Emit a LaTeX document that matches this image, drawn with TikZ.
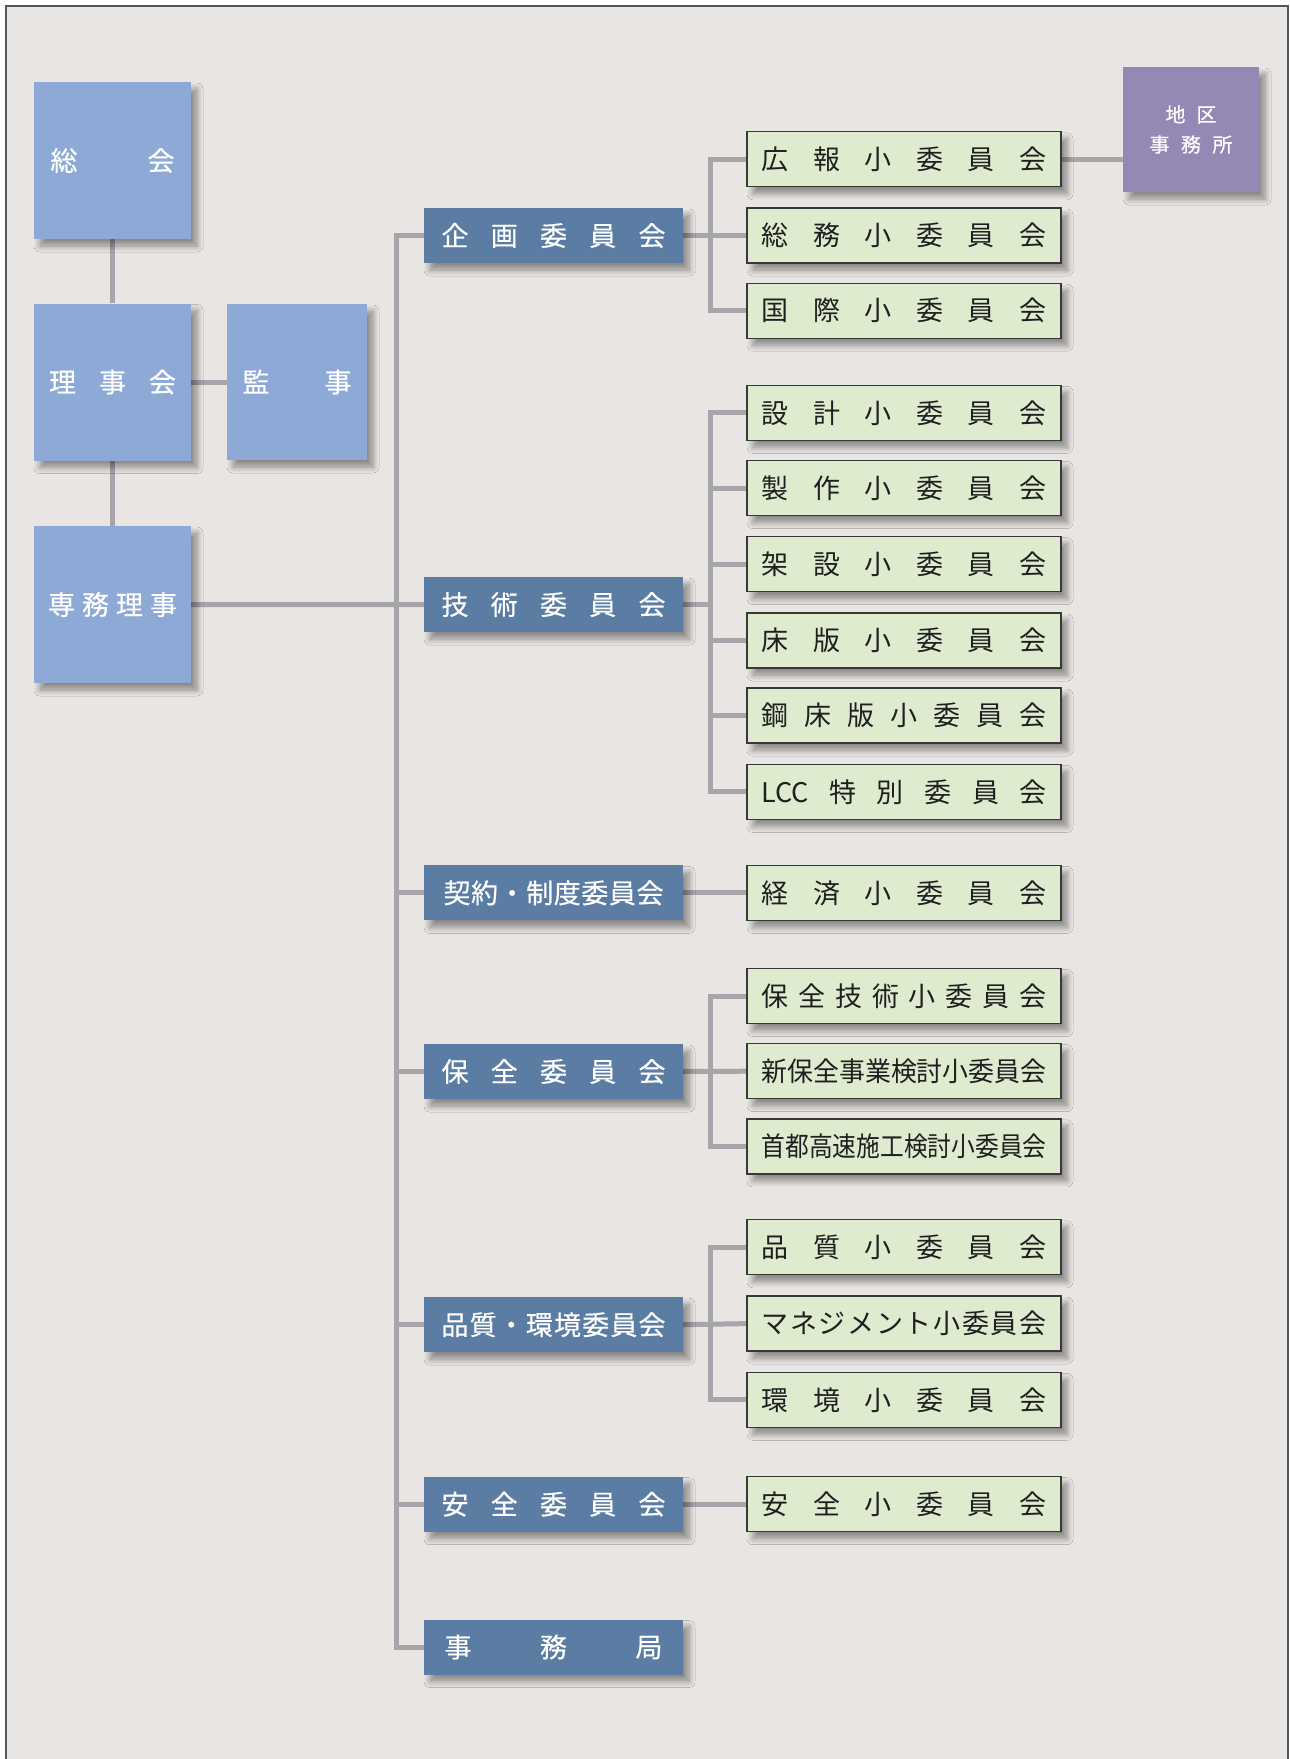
\documentclass[tikz,border=0pt]{standalone}
\usepackage{fontspec}
\setmainfont{Noto Sans CJK JP}
\newfontfamily\jpw[FakeBold=0.4]{Noto Sans CJK JP}
\usetikzlibrary{shadows.blur,backgrounds}
\definecolor{bgc}{HTML}{E9E5E2}
\definecolor{leftblue}{HTML}{8DAAD6}
\definecolor{commblue}{HTML}{5B7DA3}
\definecolor{subgreen}{HTML}{DFEBCF}
\definecolor{purp}{HTML}{9488B4}
\definecolor{linec}{HTML}{A5A5AA}
\definecolor{framec}{HTML}{555555}
\newcommand\sprd[2]{\makebox[#1][s]{#2}}
\newcommand\sqz[2]{\resizebox{#1}{\height}{#2}}
\tikzset{
  shd/.style={blur shadow={shadow xshift=6pt,shadow yshift=-7pt,shadow blur radius=6pt,shadow blur steps=8,shadow opacity=40}},
  leftbox/.style={shd,rectangle,fill=leftblue,inner sep=0pt,minimum width=157pt,minimum height=157pt,text=white,font=\jpw\fontsize{27pt}{30pt}\selectfont},
  commbox/.style={shd,rectangle,fill=commblue,inner sep=0pt,minimum width=259pt,minimum height=55pt,text=white,font=\jpw\fontsize{27pt}{30pt}\selectfont},
  subbox/.style={shd,rectangle,fill=subgreen,draw=black!78,line width=1.3pt,inner sep=0pt,minimum width=314pt,minimum height=55pt,text=black!88,font=\fontsize{27pt}{30pt}\selectfont},
  distbox/.style={shd,rectangle,fill=purp,inner sep=0pt,minimum width=136pt,minimum height=125pt,text=white,font=\jpw\fontsize{20pt}{34pt}\selectfont,align=center},
  conn/.style={draw=linec,line width=5pt,line join=miter}
}
\begin{document}
\begin{tikzpicture}[x=1pt,y=-1pt]
\useasboundingbox (0,0) rectangle (1290,1759);
% left column
\node[leftbox] (sokai) at (112.5,160.5) {\sprd{124pt}{総\hfill 会}};
\node[leftbox] (rijikai) at (112.5,382) {\sprd{127pt}{理\hfill 事\hfill 会}};
\node[leftbox] (senmu) at (112.5,604.5) {\sprd{129pt}{専\hfill 務\hfill 理\hfill 事}};
\node[leftbox,minimum width=140pt,minimum height=156pt] (kanji) at (297,382) {\sprd{109pt}{監\hfill 事}};
% committees
\node[commbox] (kikaku) at (553.5,235.5) {\sprd{224pt}{企\hfill 画\hfill 委\hfill 員\hfill 会}};
\node[commbox] (gijutsu) at (553.5,604.6) {\sprd{224pt}{技\hfill 術\hfill 委\hfill 員\hfill 会}};
\node[commbox] (keiyaku) at (553.5,892.9) {\sprd{220pt}{契\hfill 約\hfill ・\hfill 制\hfill 度\hfill 委\hfill 員\hfill 会}};
\node[commbox] (hozen) at (553.5,1071.5) {\sprd{224pt}{保\hfill 全\hfill 委\hfill 員\hfill 会}};
\node[commbox] (hinkan) at (553.5,1324.7) {\sprd{224pt}{品\hfill 質\hfill ・\hfill 環\hfill 境\hfill 委\hfill 員\hfill 会}};
\node[commbox] (anzen) at (553.5,1504.2) {\sprd{224pt}{安\hfill 全\hfill 委\hfill 員\hfill 会}};
\node[commbox] (jimukyoku) at (553.5,1647) {\sprd{218pt}{事\hfill 務\hfill 局}};
% subcommittees
\node[subbox] (kouhou) at (904,159.3) {\sprd{285pt}{広\hfill 報\hfill 小\hfill 委\hfill 員\hfill 会}};
\node[subbox] (soumu) at (904,235.5) {\sprd{285pt}{総\hfill 務\hfill 小\hfill 委\hfill 員\hfill 会}};
\node[subbox] (kokusai) at (904,310.7) {\sprd{285pt}{国\hfill 際\hfill 小\hfill 委\hfill 員\hfill 会}};
\node[subbox] (sekkei) at (904,412.8) {\sprd{285pt}{設\hfill 計\hfill 小\hfill 委\hfill 員\hfill 会}};
\node[subbox] (seisaku) at (904,488) {\sprd{285pt}{製\hfill 作\hfill 小\hfill 委\hfill 員\hfill 会}};
\node[subbox] (kasetsu) at (904,564.2) {\sprd{285pt}{架\hfill 設\hfill 小\hfill 委\hfill 員\hfill 会}};
\node[subbox] (shouban) at (904,640.5) {\sprd{285pt}{床\hfill 版\hfill 小\hfill 委\hfill 員\hfill 会}};
\node[subbox] (koushou) at (904,715.6) {\sprd{285pt}{鋼\hfill 床\hfill 版\hfill 小\hfill 委\hfill 員\hfill 会}};
\node[subbox] (lcc) at (904,791.9) {\sprd{285pt}{LCC\hfill 特\hfill 別\hfill 委\hfill 員\hfill 会}};
\node[subbox] (keizai) at (904,892.9) {\sprd{285pt}{経\hfill 済\hfill 小\hfill 委\hfill 員\hfill 会}};
\node[subbox] (hozengi) at (904,996) {\sprd{285pt}{保\hfill 全\hfill 技\hfill 術\hfill 小\hfill 委\hfill 員\hfill 会}};
\node[subbox] (shinhozen) at (904,1071.2) {\sqz{285pt}{新保全事業検討小委員会}};
\node[subbox] (shuto) at (904,1146.4) {\sqz{285pt}{首都高速施工検討小委員会}};
\node[subbox] (hinshitsu) at (904,1247.3) {\sprd{285pt}{品\hfill 質\hfill 小\hfill 委\hfill 員\hfill 会}};
\node[subbox] (manage) at (904,1323.6) {\sprd{285pt}{マ\hfill ネ\hfill ジ\hfill メ\hfill ン\hfill ト\hfill 小\hfill 委\hfill 員\hfill 会}};
\node[subbox] (kankyou) at (904,1399.8) {\sprd{285pt}{環\hfill 境\hfill 小\hfill 委\hfill 員\hfill 会}};
\node[subbox] (anzensho) at (904,1504.2) {\sprd{285pt}{安\hfill 全\hfill 小\hfill 委\hfill 員\hfill 会}};
% district office
\node[distbox] (chiku) at (1191,129.5) {\sprd{51pt}{地\hfill 区}\\[-4pt]\sprd{83pt}{事\hfill 務\hfill 所}};
% background and connectors
\begin{scope}[on background layer]
\fill[white] (0,0) rectangle (1290,1759);
\fill[bgc] (6,6) rectangle (1288,1759);
\draw[framec,line width=1.4pt] (6,1759) -- (6,6) -- (1288,6) -- (1288,1759);
\coordinate (tx) at (396,0);
\coordinate (sx) at (710,0);
\path[conn] (sokai.south) -- (rijikai.north);
\path[conn] (rijikai.south) -- (senmu.north);
\path[conn] (rijikai.east) -- (kanji.west);
\path[conn] (senmu.east) -- (gijutsu.west);
\path[conn] (kikaku.west) -| (tx |- jimukyoku.west) -- (jimukyoku.west);
\foreach \c in {keiyaku,hozen,hinkan,anzen} \path[conn] (tx |- \c.west) -- (\c.west);
% kikaku subs
\path[conn] (kouhou.west) -| (sx |- kokusai.west) -- (kokusai.west);
\path[conn] (kikaku.east) -- (soumu.west);
% gijutsu subs
\path[conn] (sekkei.west) -| (sx |- lcc.west) -- (lcc.west);
\foreach \c in {seisaku,kasetsu,shouban,koushou} \path[conn] (sx |- \c.west) -- (\c.west);
\path[conn] (gijutsu.east) -- (sx |- gijutsu.east);
% keiyaku
\path[conn] (keiyaku.east) -- (keizai.west);
% hozen
\path[conn] (hozengi.west) -| (sx |- shuto.west) -- (shuto.west);
\path[conn] (hozen.east) -- (shinhozen.west);
% hinkan
\path[conn] (hinshitsu.west) -| (sx |- kankyou.west) -- (kankyou.west);
\path[conn] (hinkan.east) -- (manage.west);
% anzen
\path[conn] (anzen.east) -- (anzensho.west);
% district
\path[conn] (kouhou.east) -- (chiku.west |- kouhou.east);
\end{scope}
\end{tikzpicture}
\end{document}
